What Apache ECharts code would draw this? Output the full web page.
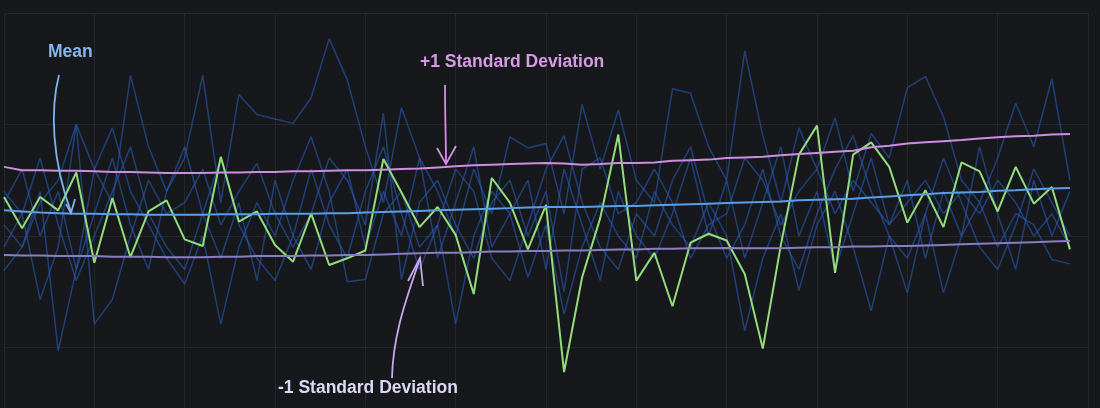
<!DOCTYPE html>
<html lang="en">
<head>
    <meta charset="UTF-8">
    <title>Mean and standard deviation bands</title>
    <script src="https://cdn.jsdelivr.net/npm/echarts@6/dist/echarts.min.js"></script>
    <style>
        html, body { margin: 0; padding: 0; background: #17181c; }
        #chart { width: 1100px; height: 408px; }
    </style>
</head>
<body>
    <div id="chart"></div>

    <script type="text/javascript">
        // highlighted series (green)
        var highlight = [13.5, 10.7, 13.5, 12.3, 15.7, 7.6, 13.4, 8.1, 12.2, 13.2,
            9.7, 9.1, 17.1, 11.3, 12.2, 9.2, 7.7, 12.0, 7.4, 8.0,
            8.7, 16.9, 13.9, 10.8, 12.6, 10.1, 4.8, 15.2, 13.0, 8.8,
            12.8, -2.2, 6.3, 11.6, 19.1, 6.0, 8.5, 3.7, 9.4, 10.2,
            9.6, 6.6, -0.1, 9.2, 17.3, 19.9, 6.7, 17.3, 18.4, 16.2,
            11.2, 14.1, 10.8, 16.6, 15.8, 12.2, 16.2, 12.9, 14.4, 8.8];

        var meanLine = [12.3, 12.2, 12.1, 12.05, 12.0, 12.0, 11.95, 11.95, 11.9, 11.9,
            11.9, 11.9, 11.95, 11.95, 11.95, 12.0, 12.0, 12.0, 12.05, 12.05,
            12.1, 12.15, 12.2, 12.25, 12.3, 12.35, 12.4, 12.45, 12.5, 12.55,
            12.6, 12.6, 12.6, 12.65, 12.7, 12.7, 12.75, 12.8, 12.85, 12.9,
            12.95, 13.0, 13.05, 13.1, 13.2, 13.25, 13.3, 13.35, 13.45, 13.55,
            13.65, 13.75, 13.85, 13.9, 13.95, 14.05, 14.1, 14.2, 14.25, 14.3];

        var plusSd = [16.2, 15.9, 15.9, 15.85, 15.85, 15.8, 15.75, 15.75, 15.7, 15.65,
            15.65, 15.65, 15.7, 15.7, 15.75, 15.75, 15.8, 15.8, 15.85, 15.9,
            15.9, 15.95, 16.0, 16.05, 16.15, 16.25, 16.35, 16.4, 16.45, 16.5,
            16.55, 16.5, 16.4, 16.45, 16.55, 16.55, 16.6, 16.75, 16.8, 16.85,
            17.0, 17.05, 17.1, 17.25, 17.35, 17.45, 17.55, 17.65, 17.95, 18.1,
            18.3, 18.4, 18.5, 18.6, 18.75, 18.85, 18.95, 19.0, 19.1, 19.15];

        var minusSd = [8.3, 8.25, 8.25, 8.2, 8.2, 8.2, 8.15, 8.15, 8.15, 8.1,
            8.1, 8.1, 8.15, 8.15, 8.2, 8.2, 8.2, 8.25, 8.25, 8.3,
            8.3, 8.35, 8.4, 8.45, 8.5, 8.5, 8.55, 8.6, 8.6, 8.65,
            8.65, 8.7, 8.7, 8.75, 8.8, 8.8, 8.85, 8.85, 8.9, 8.9,
            8.92, 8.9, 8.9, 8.9, 8.95, 9.0, 9.0, 9.05, 9.05, 9.1,
            9.1, 9.15, 9.2, 9.25, 9.3, 9.35, 9.4, 9.45, 9.5, 9.55];

        // the faint background series
        var bg1 = [11, 9, 13, 15, 20, 16, 13, 24.4, 18, 14,
            17, 24.4, 13, 22.7, 20.9, 20.5, 20.1, 22.4, 27.7, 24,
            18, 13, 21.5, 17, 14, 10, 16, 12, 18.9, 17.9,
            18.3, 12, 21.8, 16, 21.3, 15, 13, 23.2, 22.8, 18,
            15, 26.6, 19, 13, 19.7, 16, 20.6, 14, 19.2, 17,
            23.3, 24.3, 20.7, 15, 13, 17, 21.9, 18, 24.1, 15];
        var bg2 = [6.9, 9, 14, -0.3, 7, 16, 19.7, 14, 11, 8,
            5.7, 10, 2.1, 9, 13, 10, 15, 18.9, 14, 5.9,
            6.1, 12, 14, 9, 11, 2.1, 10, 14, 12, 6.3,
            11, 3.0, 9, 13, 10, 8, 14, 11, 9, 13,
            10, 1.5, 8, 12, 5.1, 11, 14, 9, 3.3, 10,
            4.9, 12, 4.9, 10, 13, 9, 12, 11, 7.9, 7.5];
        var bg3 = [14, 12, 4.3, 9, 20.0, 2.1, 4.3, 10, 15, 12,
            13, 16, 11, 14, 16.5, 12, 9, 12, 17, 15,
            11, 21, 6.1, 13, 15, 11, 8, 13, 15, 10,
            14, 5.0, 16, 17, 12, 13, 16, 13, 8, 11,
            12, 17, 15, 11, 14, 16, 12, 15, 13, 11,
            13, 15, 12, 14, 12, 15, 13, 10, 12, 9];
        var bg4 = [13, 16, 10, 14, 7, 12, 17, 11, 7, 14,
            18, 12, 8, 13, 6, 15, 10, 7, 13, 16,
            9, 14, 10, 17, 8, 13, 18, 9, 12, 15,
            7, 16, 11, 6, 14, 10, 8, 12, 17, 10,
            15, 8, 13, 18, 10, 14, 7, 12, 17, 11,
            15, 8, 14, 10, 18, 12, 7, 15, 10, 14];
        var bg5 = [9, 12, 17, 11, 6, 10, 14, 18, 12, 9,
            7, 12, 17, 11, 8, 6, 10, 16, 11, 8,
            14, 18, 12, 7, 11, 16, 14, 8, 6, 11,
            16, 19, 13, 9, 7, 12, 10, 15, 18, 12,
            8, 11, 16, 10, 7, 12, 16, 19, 14, 10,
            8, 12, 17, 13, 9, 7, 11, 16, 13, 10];

        function pairs(arr) {
            return arr.map(function (v, i) { return [i, v]; });
        }

        function lineSeries(arr, color, width, z) {
            return {
                type: 'line',
                data: pairs(arr),
                symbol: 'none',
                silent: true,
                z: z,
                lineStyle: { color: color, width: width }
            };
        }

        var font = 'bold 17.5px "Liberation Sans", Arial, sans-serif';
        var bgBlue = 'rgba(40,92,180,0.6)';

        var chart = echarts.init(document.getElementById('chart'));
        chart.setOption({
            backgroundColor: '#17181c',
            animation: false,
            // grid runs past the bottom edge on purpose (lowest gridline is off-canvas)
            grid: { left: 4, top: 13, width: 1084, height: 446, outerBoundsMode: 'none', containLabel: false },
            xAxis: {
                type: 'value', min: 0, max: 60, interval: 5,
                axisLine: { show: false }, axisTick: { show: false }, axisLabel: { show: false },
                splitLine: { show: true, lineStyle: { color: '#25272c', width: 1 } }
            },
            yAxis: {
                type: 'value', min: -10, max: 30, interval: 10,
                axisLine: { show: false }, axisTick: { show: false }, axisLabel: { show: false },
                splitLine: { show: true, lineStyle: { color: '#25272c', width: 1 } }
            },
            series: [
                lineSeries(bg1, bgBlue, 1.5, 1),
                lineSeries(bg2, bgBlue, 1.5, 1),
                lineSeries(bg3, bgBlue, 1.5, 1),
                lineSeries(bg4, bgBlue, 1.5, 1),
                lineSeries(bg5, bgBlue, 1.5, 1),
                lineSeries(highlight, '#93dd7c', 2, 2),
                lineSeries(minusSd, '#8a7ec0', 2, 3),
                lineSeries(meanLine, '#5b9ee8', 2, 3),
                lineSeries(plusSd, '#cf8fe0', 2, 3)
            ],
            graphic: [
                { type: 'text', z: 10, style: { text: 'Mean', x: 48, y: 52, fill: '#86b6ee', font: font, textVerticalAlign: 'middle' } },
                { type: 'bezierCurve', z: 10, shape: { x1: 59, y1: 75, cpx1: 50, cpy1: 110, cpx2: 52, cpy2: 160, x2: 71, y2: 212 },
                  style: { stroke: '#7cb4f0', lineWidth: 1.8, fill: null } },
                { type: 'polyline', z: 10, shape: { points: [[66, 204], [71, 213], [75, 199]] },
                  style: { stroke: '#7cb4f0', lineWidth: 1.8, fill: null } },

                { type: 'text', z: 10, style: { text: '+1 Standard Deviation', x: 420, y: 62, fill: '#d79ae6', font: font, textVerticalAlign: 'middle' } },
                { type: 'bezierCurve', z: 10, shape: { x1: 445, y1: 85, cpx1: 445, cpy1: 120, cpx2: 446, cpy2: 140, x2: 446, y2: 163 },
                  style: { stroke: '#d48fe3', lineWidth: 1.8, fill: null } },
                { type: 'polyline', z: 10, shape: { points: [[437, 148], [446, 164], [456, 146]] },
                  style: { stroke: '#d48fe3', lineWidth: 1.8, fill: null } },

                { type: 'text', z: 10, style: { text: '-1 Standard Deviation', x: 278, y: 388, fill: '#dcd8f4', font: font, textVerticalAlign: 'middle' } },
                { type: 'bezierCurve', z: 10, shape: { x1: 392, y1: 378, cpx1: 393, cpy1: 330, cpx2: 410, cpy2: 290, x2: 420, y2: 258 },
                  style: { stroke: '#c8a8ea', lineWidth: 1.8, fill: null } },
                { type: 'polyline', z: 10, shape: { points: [[408, 281], [420, 258], [423, 286]] },
                  style: { stroke: '#c8a8ea', lineWidth: 1.8, fill: null } }
            ]
        });
    </script>
</body>
</html>
